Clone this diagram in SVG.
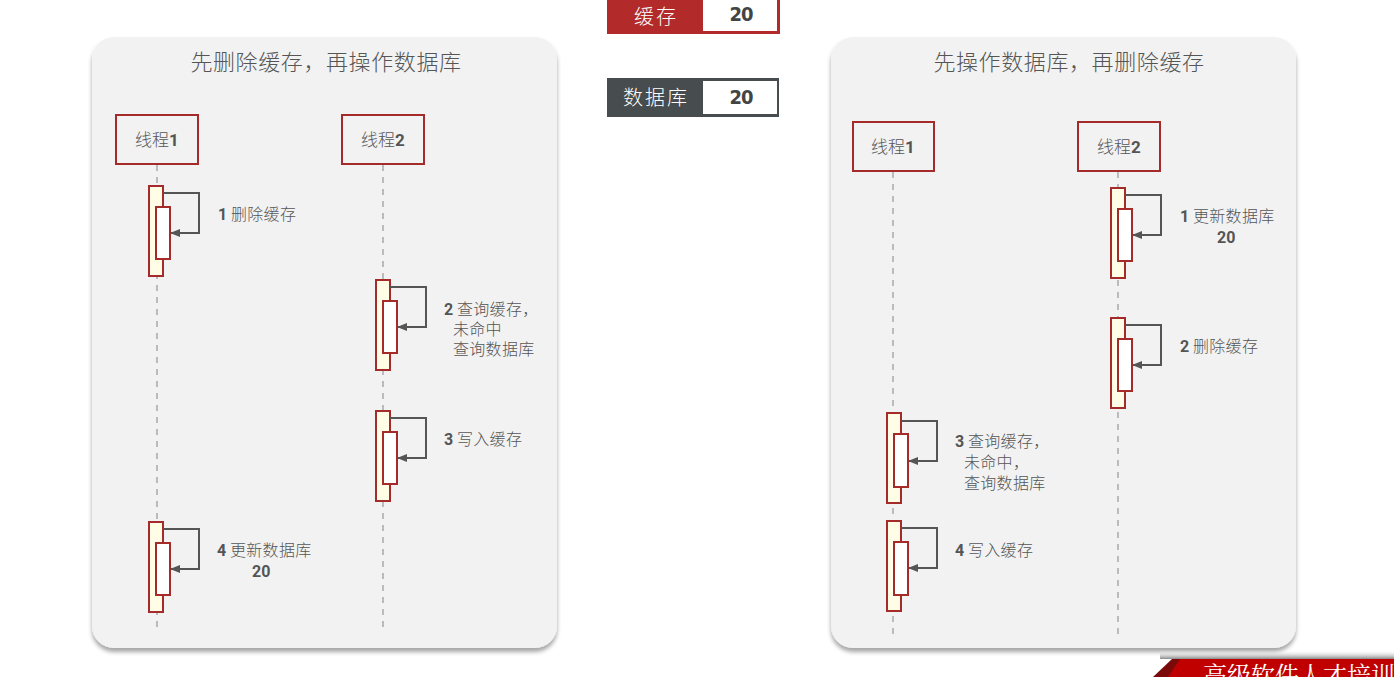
<svg xmlns="http://www.w3.org/2000/svg" width="1394" height="677" viewBox="0 0 1394 677">
<style>
.panel{fill:#f2f2f2}
.title{font-family:"Noto Sans CJK SC",sans-serif;font-weight:300;font-size:22px;letter-spacing:0.6px;fill:#555;text-anchor:middle}
.th{fill:#f2f2f2;stroke:#a52a2a;stroke-width:2}
.thl{font-family:"Noto Sans CJK SC",sans-serif;font-weight:300;font-size:17px;fill:#555;text-anchor:middle}
.life{stroke:#bbb;stroke-width:2;stroke-dasharray:6,6;fill:none}
.out{fill:#fffde6;stroke:#a52a2a;stroke-width:2}
.inn{fill:#fff;stroke:#a52a2a;stroke-width:2}
.loop{fill:none;stroke:#555;stroke-width:2}
.lb{font-family:"Noto Sans CJK SC",sans-serif;font-weight:300;font-size:16px;letter-spacing:0.3px;fill:#555}
.n{font-family:Roboto,"Liberation Sans",sans-serif;font-weight:bold;letter-spacing:0}
.leg{font-family:"Noto Sans CJK SC",sans-serif;font-weight:300;font-size:20px;letter-spacing:2px;fill:#fff;text-anchor:middle}
.num{font-family:"DejaVu Sans Condensed","Liberation Sans Narrow",sans-serif;font-weight:bold;font-size:20px;letter-spacing:-1px;fill:#444;text-anchor:middle}
</style>
<defs>
<marker id="ah" markerWidth="10" markerHeight="8" refX="9" refY="4" orient="auto" markerUnits="userSpaceOnUse">
<path d="M0,0 L10,4 L0,8 Z" fill="#555"/>
</marker>
<filter id="sh" x="-5%" y="-5%" width="110%" height="115%">
<feDropShadow dx="0" dy="4" stdDeviation="2" flood-color="#000" flood-opacity="0.35"/>
</filter>
<linearGradient id="bs" x1="0" y1="0" x2="0" y2="1">
<stop offset="0" stop-color="#fff" stop-opacity="0"/>
<stop offset="1" stop-color="#888"/>
</linearGradient>
</defs>

<g id="legend-cache">
<rect x="607" y="-4" width="173" height="38" fill="#b22a2a"/>
<rect x="703" y="-4" width="74" height="35" fill="#fff"/>
<text class="leg" x="656" y="24">缓存</text>
<text class="num" x="741" y="21">20</text>
</g>
<g id="legend-db">
<rect x="607" y="78" width="172" height="39" fill="#474c4e"/>
<rect x="703" y="81" width="74" height="33" fill="#fff"/>
<text class="leg" x="656" y="105">数据库</text>
<text class="num" x="741" y="104">20</text>
</g>

<g id="panel-left">
<rect class="panel" x="92" y="37" width="465" height="611" rx="22" filter="url(#sh)"/>
<text class="title" x="326" y="70">先删除缓存，再操作数据库</text>
</g>
<g id="panel-right">
<rect class="panel" x="831" y="37" width="465" height="611" rx="22" filter="url(#sh)"/>
<text class="title" x="1069" y="70">先操作数据库，再删除缓存</text>
</g>

<g id="L-thread1">
<line class="life" x1="157" y1="165" x2="157" y2="628"/>
<rect class="th" x="116" y="115" width="82" height="49"/>
<text class="thl" x="157" y="146">线程<tspan class="n">1</tspan></text>
</g>
<g id="L-thread2">
<line class="life" x1="383" y1="165" x2="383" y2="628"/>
<rect class="th" x="342" y="115" width="82" height="49"/>
<text class="thl" x="383" y="146">线程<tspan class="n">2</tspan></text>
</g>
<g id="R-thread1">
<line class="life" x1="893" y1="172" x2="893" y2="634"/>
<rect class="th" x="853" y="122" width="81" height="49"/>
<text class="thl" x="893" y="153">线程<tspan class="n">1</tspan></text>
</g>
<g id="R-thread2">
<line class="life" x1="1118" y1="172" x2="1118" y2="634"/>
<rect class="th" x="1078" y="122" width="82" height="49"/>
<text class="thl" x="1119" y="153">线程<tspan class="n">2</tspan></text>
</g>

<g id="L-act1">
<rect class="out" x="149" y="186" width="14" height="90"/>
<rect class="inn" x="156" y="207" width="14" height="52"/>
<text class="lb" x="218" y="220"><tspan class="n">1</tspan> 删除缓存</text>
</g>
<g id="L-act2">
<rect class="out" x="376" y="280" width="14" height="90"/>
<rect class="inn" x="383" y="301" width="14" height="52"/>
<text class="lb" x="444" y="315"><tspan class="n">2</tspan> 查询缓存，<tspan x="453" dy="20">未命中</tspan><tspan x="453" dy="20">查询数据库</tspan></text>
</g>
<g id="L-act3">
<rect class="out" x="376" y="411" width="14" height="90"/>
<rect class="inn" x="383" y="432" width="14" height="52"/>
<text class="lb" x="444" y="445"><tspan class="n">3</tspan> 写入缓存</text>
</g>
<g id="L-act4">
<rect class="out" x="149" y="522" width="14" height="90"/>
<rect class="inn" x="156" y="543" width="14" height="52"/>
<text class="lb" x="217" y="556"><tspan class="n">4</tspan> 更新数据库<tspan class="n" x="252" dy="21">20</tspan></text>
</g>

<g id="R-act1">
<rect class="out" x="1111" y="188" width="14" height="90"/>
<rect class="inn" x="1118" y="209" width="14" height="52"/>
<text class="lb" x="1180" y="222"><tspan class="n">1</tspan> 更新数据库<tspan class="n" x="1217" dy="21">20</tspan></text>
</g>
<g id="R-act2">
<rect class="out" x="1111" y="318" width="14" height="90"/>
<rect class="inn" x="1118" y="339" width="14" height="52"/>
<text class="lb" x="1180" y="352"><tspan class="n">2</tspan> 删除缓存</text>
</g>
<g id="R-act3">
<rect class="out" x="887" y="413" width="14" height="90"/>
<rect class="inn" x="894" y="434" width="14" height="53"/>
<text class="lb" x="955" y="447"><tspan class="n">3</tspan> 查询缓存，<tspan x="964" dy="21">未命中，</tspan><tspan x="964" dy="21">查询数据库</tspan></text>
</g>
<g id="R-act4">
<rect class="out" x="887" y="521" width="14" height="90"/>
<rect class="inn" x="894" y="542" width="14" height="53"/>
<text class="lb" x="955" y="556"><tspan class="n">4</tspan>  写入缓存</text>
</g>

<g id="connectors">
<path class="loop" d="M163,193 H199 V233 H171" marker-end="url(#ah)"/>
<path class="loop" d="M390,287 H426 V327 H398" marker-end="url(#ah)"/>
<path class="loop" d="M390,418 H426 V458 H398" marker-end="url(#ah)"/>
<path class="loop" d="M163,529 H199 V569 H171" marker-end="url(#ah)"/>
<path class="loop" d="M1125,195 H1161 V235 H1133" marker-end="url(#ah)"/>
<path class="loop" d="M1125,325 H1161 V365 H1133" marker-end="url(#ah)"/>
<path class="loop" d="M901,421 H937 V461 H909" marker-end="url(#ah)"/>
<path class="loop" d="M901,528 H937 V568 H909" marker-end="url(#ah)"/>
</g>

<g id="banner">
<rect x="1160" y="650" width="234" height="9" fill="url(#bs)"/>
<polygon points="1153,677 1172,659 1394,659 1394,677" fill="#7a0a0a"/>
<polygon points="1168,677 1180,659 1394,659 1394,677" fill="#c00000"/>
<text x="1203" y="684" font-family="'Noto Serif CJK SC','Noto Sans CJK SC',serif" font-size="24" fill="#fff">高级软件人才培训</text>
</g>
</svg>
